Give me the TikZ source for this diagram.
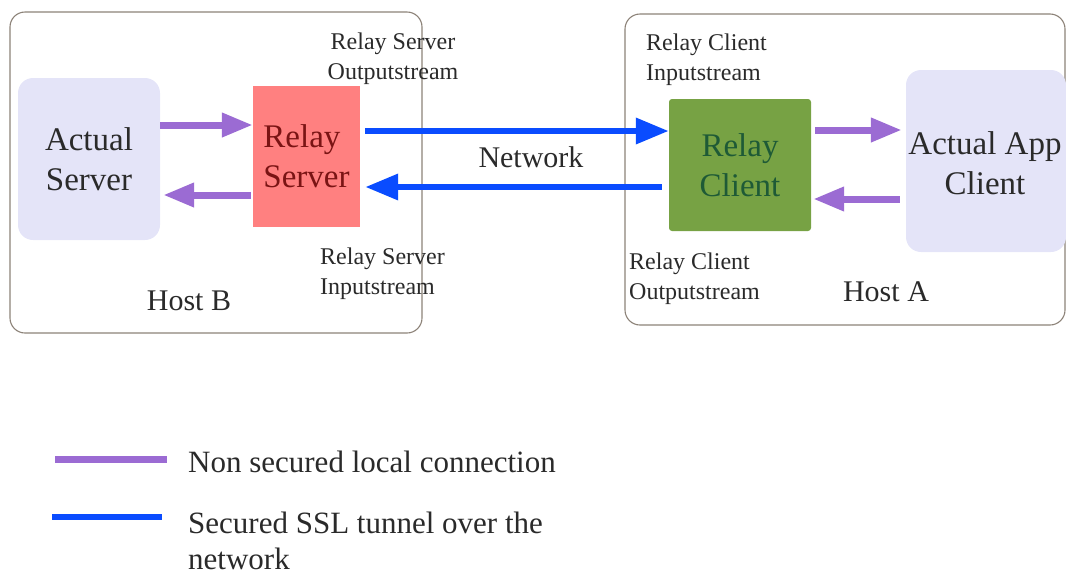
\documentclass[tikz,border=0pt]{standalone}
\usepackage{fontspec}
\setmainfont{Liberation Serif}
\usetikzlibrary{arrows.meta}
\definecolor{lav}{HTML}{E4E4F8}
\definecolor{rsfill}{HTML}{FF8080}
\definecolor{rcfill}{HTML}{77A244}
\definecolor{purp}{HTML}{9B6BD3}
\definecolor{blu}{HTML}{0A4CFF}
\definecolor{hostline}{HTML}{8C8278}
\definecolor{txt}{HTML}{2A2A2A}
\definecolor{rstxt}{HTML}{7A1414}
\definecolor{rctxt}{HTML}{1E5A36}
\begin{document}
\begin{tikzpicture}[x=1pt,y=-1pt,
  hostbox/.style={draw=hostline,line width=1.1pt,rounded corners=15pt},
  bigtxt/.style={font=\fontsize{33}{40}\selectfont,align=center,text=txt},
  smalltxt/.style={font=\fontsize{24}{30}\selectfont,text=txt},
  legtxt/.style={font=\fontsize{31}{36}\selectfont,text=txt,align=left,anchor=west,inner sep=0pt},
  parrow/.style={draw=purp,line width=7pt,-{Triangle[length=31pt,width=23pt]}},
  barrow/.style={draw=blu,line width=6.5pt,-{Triangle[length=33pt,width=25pt]}}]
\useasboundingbox (0,0) rectangle (1066,571);
% host boxes
\draw[hostbox] (10,12) rectangle (422,333);
\draw[hostbox] (625,14) rectangle (1065,325);
% main nodes
\node[bigtxt,fill=lav,rounded corners=15pt,minimum width=142pt,minimum height=162pt,inner sep=0pt] (as) at (89,159) {Actual\\Server};
\node[bigtxt,align=left,fill=rsfill,text=rstxt,minimum width=107pt,minimum height=141pt,inner sep=0pt] (rs) at (306.5,156.5) {Relay\\Server};
\node[bigtxt,fill=rcfill,text=rctxt,rounded corners=3pt,minimum width=142pt,minimum height=132pt,inner sep=0pt] (rc) at (740,165) {Relay\\Client};
\node[fill=lav,rounded corners=15pt,minimum width=160pt,minimum height=182pt,inner sep=0pt] (ac) at (986,161) {};
\node[bigtxt,inner sep=0pt] (actxt) at (985,163) {Actual App\\Client};
% labels
\node[smalltxt,align=center] (rso) at (393,59) {Relay Server\\Outputstream};
\node[smalltxt,align=left,anchor=west,inner sep=0pt] (rsi) at (320,274) {Relay Server\\Inputstream};
\node[smalltxt,align=left,anchor=west,inner sep=0pt] (rci) at (646,60) {Relay Client\\Inputstream};
\node[smalltxt,align=left,anchor=west,inner sep=0pt] (rcop) at (629,279) {Relay Client\\Outputstream};
\node[font=\fontsize{30}{36}\selectfont,text=txt] (net) at (531,157) {Network};
\node[font=\fontsize{30}{36}\selectfont,text=txt] (hb) at (189,301) {Host B};
\node[font=\fontsize{30}{36}\selectfont,text=txt] (ha) at (886,292) {Host A};
% connectors
\draw[parrow] (as.east |- 0,125) -- (rs.west |- 0,125);
\draw[parrow] ([xshift=-2pt]rs.west |- 0,195) -- ([xshift=3pt]as.east |- 0,195);
\draw[barrow] ([xshift=5pt]rs.east |- 0,131) -- (rc.west |- 0,131);
\draw[barrow] ([xshift=-7pt]rc.west |- 0,187) -- ([xshift=5pt]rs.east |- 0,187);
\draw[parrow] ([xshift=4pt]rc.east |- 0,130) -- ([xshift=-4pt]ac.west |- 0,130);
\draw[parrow] ([xshift=-6pt]ac.west |- 0,199) -- ([xshift=2pt]rc.east |- 0,199);
% legend
\coordinate (lp1) at (55,459);
\coordinate (lp2) at (167,459);
\coordinate (lb1) at (52,517);
\coordinate (lb2) at (162,517);
\draw[purp,line width=7pt] (lp1) -- (lp2);
\draw[blu,line width=6.5pt] (lb1) -- (lb2);
\node[legtxt] (l1) at (188,462) {Non secured local connection};
\node[legtxt] (l2) at (188,541) {Secured SSL tunnel over the\\network};
\end{tikzpicture}
\end{document}
